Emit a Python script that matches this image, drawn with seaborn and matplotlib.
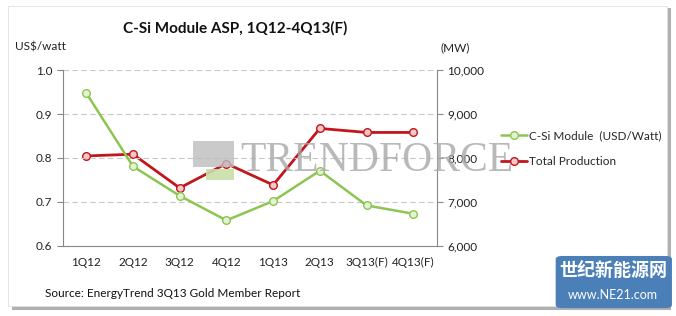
import matplotlib
matplotlib.use("Agg")
import matplotlib.pyplot as plt
import seaborn as sns
import pandas as pd
from matplotlib.patches import FancyBboxPatch, Rectangle
from matplotlib.lines import Line2D

quarters = ["1Q12", "2Q12", "3Q12", "4Q12", "1Q13", "2Q13", "3Q13(F)", "4Q13(F)"]
asp = [0.948, 0.781, 0.714, 0.658, 0.702, 0.771, 0.692, 0.673]
production = [8047, 8086, 7318, 7874, 7386, 8673, 8582, 8582]
left_ticks = [0.6, 0.7, 0.8, 0.9, 1.0]
right_ticks = [6000, 7000, 8000, 9000, 10000]

sns.set_style("white")
plt.rcParams['font.family'] = ['Lato', 'DejaVu Sans']

df = pd.DataFrame({"x": range(len(quarters)), "asp": asp, "prod": production})

fig = plt.figure(figsize=(6.76, 3.16), dpi=100)
fig.patch.set_facecolor("white")

# card with shadow
fig.patches.append(FancyBboxPatch((0.018, 0.02), 0.975, 0.955, boxstyle="square,pad=0",
                                  transform=fig.transFigure, facecolor="#b0b0b0", edgecolor="none", zorder=-2))
fig.patches.append(FancyBboxPatch((0.012, 0.032), 0.975, 0.95, boxstyle="square,pad=0",
                                  transform=fig.transFigure, facecolor="white", edgecolor="#e0e0e0", lw=0.6, zorder=-1))

ax = fig.add_axes([0.093, 0.222, 0.553, 0.556])
ax2 = ax.twinx()

green = "#8DC551"
red = "#C0161C"

sns.lineplot(data=df, x="x", y="asp", ax=ax, color=green, lw=1.8, marker="o", markersize=5.5,
             markerfacecolor="#E4F1D2", markeredgecolor=green, markeredgewidth=1.0, zorder=3)
sns.lineplot(data=df, x="x", y="prod", ax=ax2, color=red, lw=2.0, marker="o", markersize=5.5,
             markerfacecolor="#F7C6C6", markeredgecolor=red, markeredgewidth=1.0, zorder=3)

ax.set_xlim(-0.5, len(quarters) - 0.5)
ax.set_ylim(0.6, 1.0)
ax2.set_ylim(6000, 10000)
ax.set_yticks(left_ticks)
ax.set_yticklabels([f"{v:.1f}" for v in left_ticks])
ax2.set_yticks(right_ticks)
ax2.set_yticklabels([f"{v:,}" for v in right_ticks])
ax.set_xticks(range(len(quarters)))
ax.set_xticklabels(quarters)
ax.set_xticks([i - 0.5 for i in range(len(quarters) + 1)], minor=True)
ax.tick_params(axis="x", which="major", length=0, labelsize=8.5, colors="#222222", pad=8)
ax.tick_params(axis="x", which="minor", length=4, color="#888888", direction="out")
ax.tick_params(axis="y", length=4, color="#888888", direction="out", labelsize=8.5, labelcolor="#222222", left=True)
ax2.tick_params(axis="y", length=4, color="#888888", direction="out", labelsize=8.5, labelcolor="#222222", right=True)

for a in (ax, ax2):
    for s in a.spines.values():
        s.set_visible(False)
ax.spines["left"].set_visible(True)
ax.spines["bottom"].set_visible(True)
ax2.spines["right"].set_visible(True)
for s in (ax.spines["left"], ax.spines["bottom"], ax2.spines["right"]):
    s.set_color("#888888")
    s.set_linewidth(0.8)

ax.yaxis.grid(True, ls=(0, (5, 3)), color="#c8c8c8", lw=0.8)
ax.set_axisbelow(True)
ax.set_xlabel("")
ax.set_ylabel("")
ax2.set_ylabel("")
ax.set_zorder(ax2.get_zorder() + 1)
ax.patch.set_visible(False)

fig.text(0.348, 0.91, "C-Si Module ASP, 1Q12-4Q13(F)", ha="center", va="center",
         fontsize=11, fontweight="bold", color="#111111")
fig.text(0.022, 0.85, "US$/watt", ha="left", va="center", fontsize=8.5, color="#222222")
fig.text(0.651, 0.85, "(MW)", ha="left", va="center", fontsize=8.5, color="#222222")
fig.text(0.067, 0.07, "Source: EnergyTrend 3Q13 Gold Member Report", ha="left", va="center",
         fontsize=8.5, color="#111111")

# watermark
fig.patches.append(Rectangle((0.286, 0.47), 0.06, 0.085, transform=fig.transFigure,
                             facecolor="#bdbdbd", edgecolor="none", alpha=0.8, zorder=1))
fig.patches.append(Rectangle((0.305, 0.43), 0.041, 0.035, transform=fig.transFigure,
                             facecolor="#c9dfa8", edgecolor="none", alpha=0.9, zorder=1))
fig.text(0.355, 0.49, "TRENDFORCE", ha="left", va="center", fontsize=30,
         family="Liberation Serif", color="#a8a8a8", alpha=0.8)

handles = [Line2D([], [], color=green, lw=1.8, marker="o", markersize=5.5,
                  markerfacecolor="#E4F1D2", markeredgecolor=green),
           Line2D([], [], color=red, lw=2.0, marker="o", markersize=5.5,
                  markerfacecolor="#F7C6C6", markeredgecolor=red)]
fig.legend(handles, ["C-Si Module  (USD/Watt)", "Total Production"], loc="center left",
           bbox_to_anchor=(0.725, 0.53), frameon=False, fontsize=8.5, handlelength=2.2,
           handletextpad=0.2, labelspacing=1.3)

# site badge
fig.patches.append(FancyBboxPatch((0.822, 0.025), 0.172, 0.165, boxstyle="round,pad=0,rounding_size=0.01",
                                  transform=fig.transFigure, facecolor="#4a7fb8", edgecolor="none", zorder=5))
fig.text(0.907, 0.145, "世纪新能源网", ha="center", va="center", fontsize=13, fontweight="bold",
         color="white", family=["Noto Sans CJK SC", "DejaVu Sans"], zorder=6)
fig.text(0.907, 0.065, "www.NE21.com", ha="center", va="center", fontsize=9,
         color="white", zorder=6)

fig.savefig("out.png", dpi=100)
